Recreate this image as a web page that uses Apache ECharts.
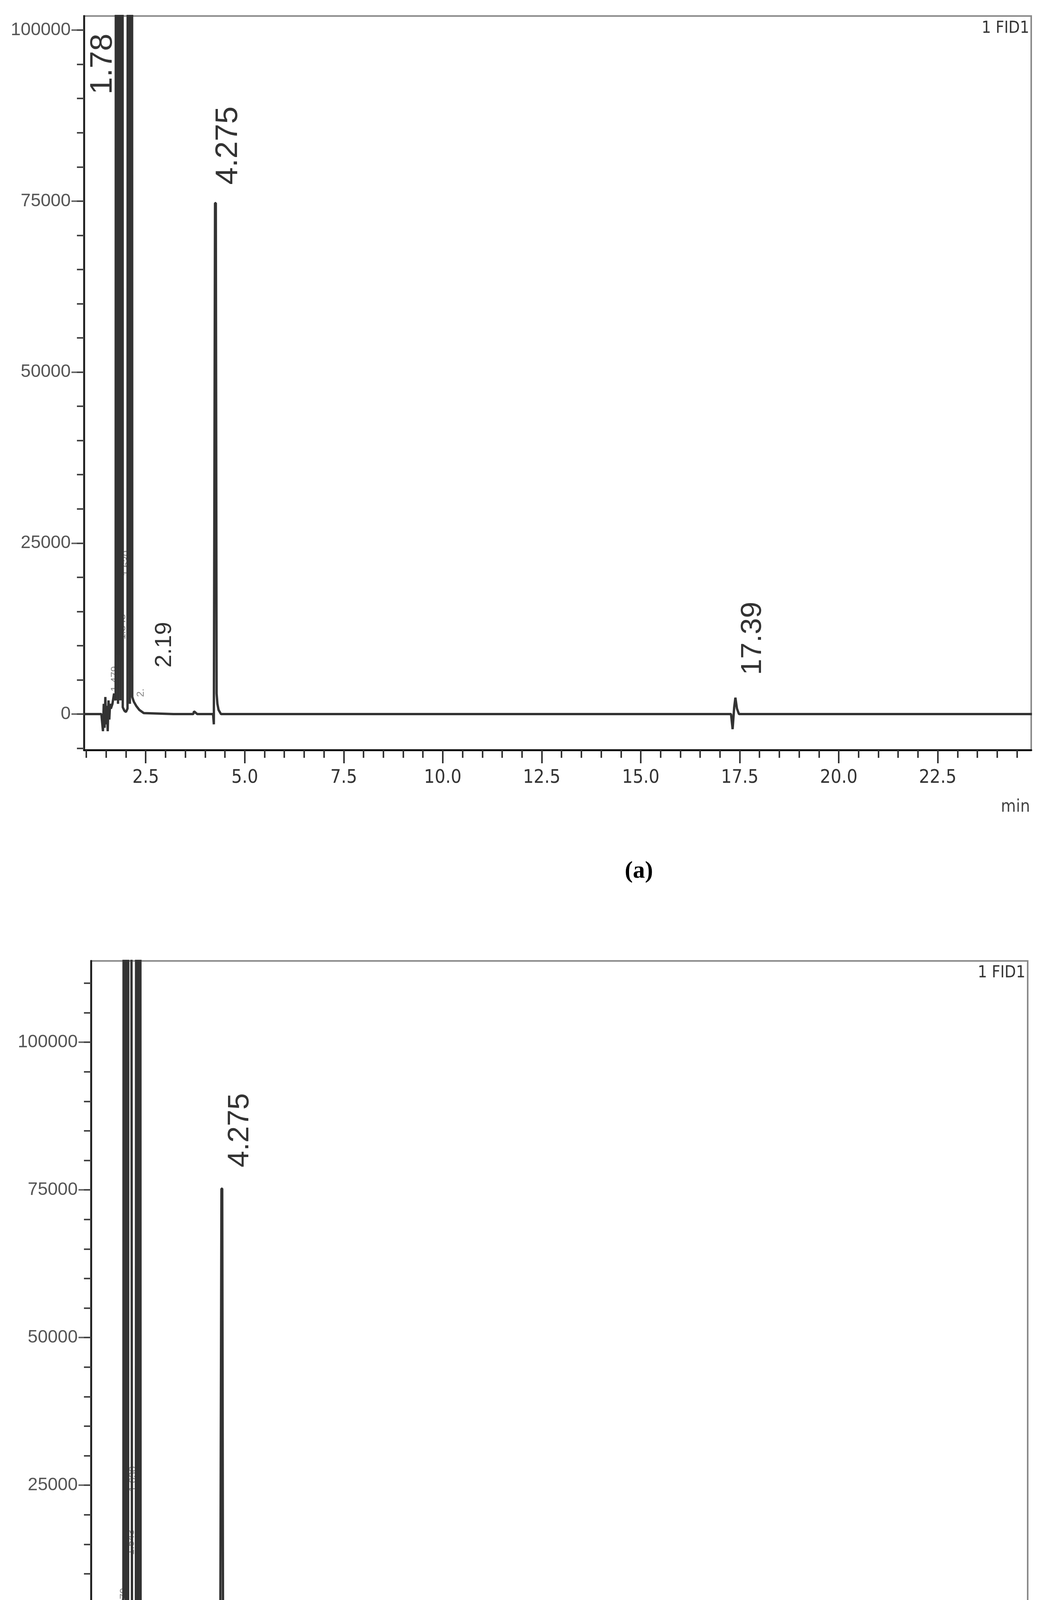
<!DOCTYPE html>
<html>
<head>
<meta charset="utf-8">
<script src="https://cdn.jsdelivr.net/npm/echarts@6/dist/echarts.min.js"></script>
<style>
  html, body { margin: 0; padding: 0; background: #fff; }
  #chart { width: 2684px; height: 4599px; }
</style>
</head>
<body>
<div id="chart"></div>
<script>
// ---- data ----
// panel (a): retention time (min) / FID signal
var timeA = [0.94, 1.38, 1.42, 1.44, 1.46, 1.48, 1.50, 1.52, 1.54, 1.56, 1.58, 1.60, 1.62, 1.66, 1.70,
    1.74, 1.76, 1.78, 1.80, 1.82, 1.84, 1.86, 1.88, 1.90, 1.92, 1.96, 2.00,
    2.04, 2.06, 2.08, 2.10, 2.12, 2.14, 2.16, 2.20, 2.26, 2.34, 2.45, 3.20, 3.70, 3.72, 3.80,
    4.20, 4.22, 4.25, 4.27, 4.29, 4.31, 4.34, 4.40, 10.0, 17.28, 17.32, 17.36, 17.39, 17.43, 17.48, 24.88];
var signalA = [0, 0, -2500, 1500, -2000, 2500, -1500, 1200, -2500, 2000, -800, 1500, 800, 1500, 3000,
    2000, 500000, 500000, 1500, 500000, 500000, 2000, 500000, 500000, 1000, 500, 300,
    800, 500000, 500000, 1500, 500000, 500000, 2500, 1800, 1200, 600, 150, 0, 0, 400, 0,
    0, -1500, 74700, 74700, 3000, 1500, 600, 0, 0, 0, -2200, 1000, 2400, 800, 0, 0];

// panel (b)
var timeB = [0.91, 1.40, 1.44, 1.46, 1.48, 1.50, 1.52, 1.54, 1.56, 1.58, 1.60, 1.64, 1.70,
    1.74, 1.76, 1.78, 1.80, 1.82, 1.84, 1.86, 1.88, 1.90, 1.96, 2.02,
    2.06, 2.08, 2.10, 2.12, 2.14, 2.16, 2.18, 2.24, 2.40, 3.60, 3.62, 3.70,
    4.20, 4.22, 4.25, 4.27, 4.29, 4.31, 4.34, 4.40, 24.89];
var signalB = [0, 0, -2500, 1200, -2200, 1800, -1500, 1500, -800, 2000, 1800, 2500, 3500,
    6000, 500000, 500000, 3000, 500000, 500000, 4000, 500000, 500000, 1500, 1200,
    1500, 500000, 500000, 2000, 500000, 500000, 1500, 600, 200, 0, 300, 0,
    0, -1800, 75200, 75200, 3000, 1500, 500, 0, 0];

// peak annotations: [time, signal anchor, text, font size]
var peaksA = [
    [1.42, 90600, '1.78', 80],
    [4.59, 77400, '4.275', 80],
    [2.98, 6800, '2.19', 60],
    [17.83, 5700, '17.39', 75],
    [1.73, 3300, '1.479', 26],
    [1.91, 10900, '1.543', 26],
    [2.02, 20200, '1.630', 26],
    [2.38, 2500, '2.', 26]
];
var peaksB = [
    [4.73, 78800, '4.275', 76],
    [1.76, 3300, '1.479', 26],
    [1.94, 13200, '1.543', 26],
    [1.99, 23900, '1.630', 26]
];

var xLabels = [2.5, 5.0, 7.5, 10.0, 12.5, 15.0, 17.5, 20.0, 22.5];
var yLabelsA = [0, 25000, 50000, 75000, 100000];
var yLabelsB = [0, 25000, 50000, 75000, 100000];

// minor tick positions
var xMinor = [];
for (var t = 1.0; t <= 24.6; t += 0.5) xMinor.push(Math.round(t * 10) / 10);
var yMinorA = [];
for (var v = -5000; v <= 100000; v += 5000) yMinorA.push(v);
var yMinorB = [];
for (var v2 = -5000; v2 <= 110000; v2 += 5000) yMinorB.push(v2);

function pairs(xs, ys) {
    return xs.map(function (x, i) { return [x, ys[i]]; });
}

var echart = echarts.init(document.getElementById('chart'));

var grids = [
    { left: 215, right: 43, top: 41, height: 1879, show: true, borderColor: '#8a8a8a', borderWidth: 4 },
    { left: 233, right: 52, top: 2460, height: 1799, show: true, borderColor: '#8a8a8a', borderWidth: 4 }
];
var xRange = [[0.94, 24.86], [0.91, 24.89]];
var yRange = [[-5250, 102060], [-5220, 113760]];
var yMinors = [yMinorA, yMinorB];
var yLabels = [yLabelsA, yLabelsB];

var xAxes = [], yAxes = [];
[0, 1].forEach(function (g) {
    // major x
    xAxes.push({
        type: 'value', gridIndex: g, position: 'bottom', min: xRange[g][0], max: xRange[g][1],
        axisLine: { show: true, onZero: false, lineStyle: { color: '#111', width: 5 } },
        axisTick: { show: true, length: 34, customValues: xLabels, lineStyle: { color: '#333', width: 4 } },
        axisLabel: { show: true, customValues: xLabels, margin: 48, color: '#333',
            fontFamily: 'DejaVu Sans Condensed', fontSize: 48,
            formatter: function (v) { return v.toFixed(1); } },
        splitLine: { show: false }
    });
    // minor x
    xAxes.push({
        type: 'value', gridIndex: g, position: 'bottom', min: xRange[g][0], max: xRange[g][1],
        axisLine: { show: false, onZero: false },
        axisTick: { show: true, length: 20, customValues: xMinor, lineStyle: { color: '#333', width: 4 } },
        axisLabel: { show: false },
        splitLine: { show: false }
    });
    // major y
    yAxes.push({
        type: 'value', gridIndex: g, position: 'left', min: yRange[g][0], max: yRange[g][1],
        axisLine: { show: true, onZero: false, lineStyle: { color: '#222', width: 5 } },
        axisTick: { show: true, length: 32, customValues: yLabels[g], lineStyle: { color: '#666', width: 4 } },
        axisLabel: { show: true, customValues: yLabels[g], margin: 34, color: '#555',
            fontFamily: 'Liberation Sans', fontSize: 46,
            formatter: function (v) { return String(v); } },
        splitLine: { show: false }
    });
    // minor y
    yAxes.push({
        type: 'value', gridIndex: g, position: 'left', min: yRange[g][0], max: yRange[g][1],
        axisLine: { show: false, onZero: false },
        axisTick: { show: true, length: 18, customValues: yMinors[g], lineStyle: { color: '#444', width: 4 } },
        axisLabel: { show: false },
        splitLine: { show: false }
    });
});

function labelSeries(peaks, g) {
    return {
        type: 'scatter', xAxisIndex: g * 2, yAxisIndex: g * 2,
        symbolSize: 0, silent: true,
        data: peaks.map(function (p) {
            return {
                value: [p[0], p[1]],
                label: { fontSize: p[3], color: p[3] > 40 ? '#000' : '#666' },
                name: p[2]
            };
        }),
        label: {
            show: true, position: 'inside', rotate: 90, align: 'left', verticalAlign: 'middle',
            fontFamily: 'Liberation Sans',
            formatter: function (d) { return d.name; }
        }
    };
}

var option = {
    animation: false,
    backgroundColor: '#fff',
    grid: grids,
    xAxis: xAxes,
    yAxis: yAxes,
    title: [
        { text: '{p|(}{b|a}{p|)}', left: 1595, top: 2195,
          textStyle: { rich: { p: { fontSize: 62, fontFamily: 'Liberation Serif', color: '#000' },
                               b: { fontSize: 62, fontFamily: 'Liberation Serif', fontWeight: 'bold', color: '#000' } } } },
        { text: '{p|(}{b|b}{p|)}', left: 1595, top: 4515,
          textStyle: { rich: { p: { fontSize: 62, fontFamily: 'Liberation Serif', color: '#000' },
                               b: { fontSize: 62, fontFamily: 'Liberation Serif', fontWeight: 'bold', color: '#000' } } } }
    ],
    graphic: [
        { type: 'text', right: 48, top: 52, style: { text: '1 FID1', fontSize: 42, fontFamily: 'DejaVu Sans Condensed', fill: '#333' } },
        { type: 'text', right: 58, top: 2470, style: { text: '1 FID1', fontSize: 42, fontFamily: 'DejaVu Sans Condensed', fill: '#333' } },
        { type: 'text', right: 46, top: 2045, style: { text: 'min', fontSize: 44, fontFamily: 'DejaVu Sans Condensed', fill: '#444' } },
        { type: 'text', right: 52, top: 4370, style: { text: 'min', fontSize: 44, fontFamily: 'DejaVu Sans Condensed', fill: '#444' } }
    ],
    series: [
        {
            name: 'FID a', type: 'line', xAxisIndex: 0, yAxisIndex: 0,
            data: pairs(timeA, signalA), showSymbol: false, clip: true,
            lineStyle: { color: '#333', width: 6 }
        },
        {
            name: 'FID b', type: 'line', xAxisIndex: 2, yAxisIndex: 2,
            data: pairs(timeB, signalB), showSymbol: false, clip: true,
            lineStyle: { color: '#333', width: 6 }
        },
        labelSeries(peaksA, 0),
        labelSeries(peaksB, 1)
    ]
};
echart.setOption(option);
</script>
</body>
</html>
